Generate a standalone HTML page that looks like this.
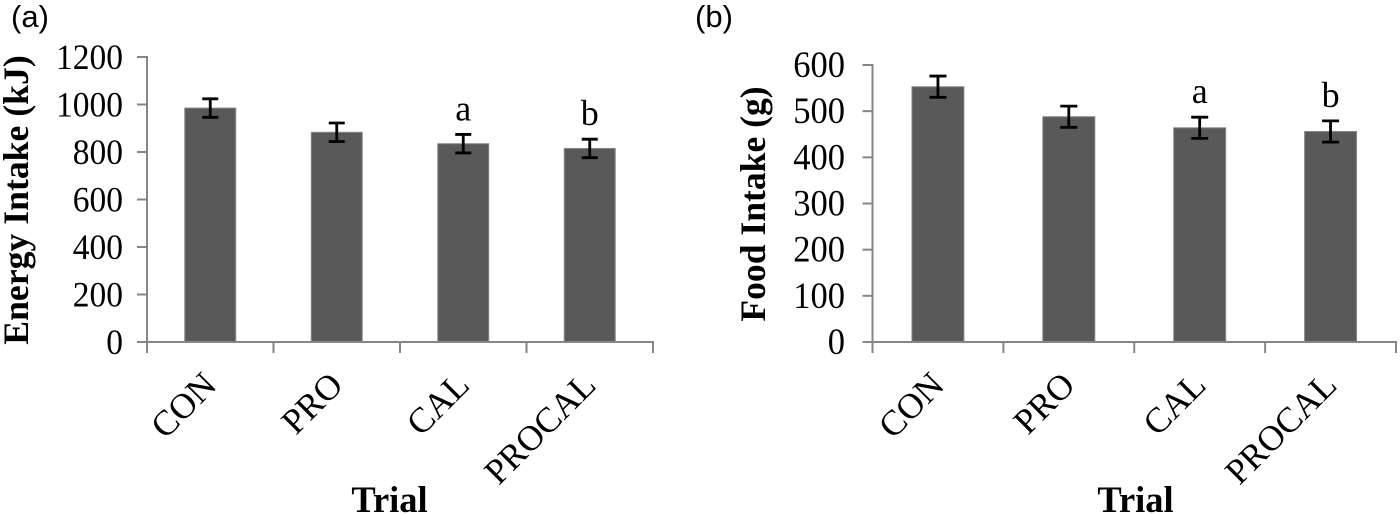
<!DOCTYPE html>
<html>
<head>
<meta charset="utf-8">
<style>
html,body{margin:0;padding:0;background:#fff;width:1400px;height:515px;overflow:hidden}
svg{display:block}
text{font-family:"Liberation Serif",serif;fill:#000}
</style>
</head>
<body>
<svg id="figure" width="1400" height="515" viewBox="0 0 1400 515" xmlns="http://www.w3.org/2000/svg">
<text x="11" y="27" style="font-family:'Liberation Sans',sans-serif;font-size:31px">(a)</text>
<text x="695" y="27" style="font-family:'Liberation Sans',sans-serif;font-size:31px">(b)</text>
</svg>
<script>
const categories = ["CON", "PRO", "CAL", "PROCAL"];
const energyValues = [985, 883, 835, 815];
const energyErrors = [39, 39, 39, 39];
const energyTicks = [0, 200, 400, 600, 800, 1000, 1200];
const foodValues = [553, 488, 464, 456];
const foodErrors = [23, 23, 23, 23];
const foodTicks = [0, 100, 200, 300, 400, 500, 600];
const significance = ["", "", "a", "b"];

const svg = document.getElementById('figure');
function mk(tag, attrs, txt) {
  const el = document.createElementNS('http://www.w3.org/2000/svg', tag);
  for (const k in attrs) el.setAttribute(k, attrs[k]);
  if (txt !== undefined) el.textContent = txt;
  svg.appendChild(el);
  return el;
}
function drawPanel(p, values, errors, ticks) {
  const yMax = ticks[ticks.length - 1];
  const yScale = v => p.y0 - (v / yMax) * (p.y0 - p.yTop);
  const band = (p.xRight - p.xLeft) / categories.length;
  const xCenter = i => p.xLeft + band * (i + 0.5);
  const axis = '#868686';

  values.forEach((v, i) => {
    const bar = mk('rect', {x: xCenter(i) - p.barW / 2, y: yScale(v), width: p.barW, height: p.y0 - yScale(v), fill: '#595959', stroke: '#8a8a8a', 'stroke-width': 1});
    
    
  });

  const yLine = mk('line', {x1: p.xLeft, x2: p.xLeft, y1: p.yTop - 1, y2: p.y0, stroke: axis, 'stroke-width': 2});
  
  
  const xLine = mk('line', {x1: p.xLeft - 10, x2: p.xRight + 1, y1: p.y0, y2: p.y0, stroke: axis, 'stroke-width': 2});
  
  

  ticks.forEach(t => {
    const y = yScale(t);
    const tk = mk('line', {x1: p.xLeft - 10, x2: p.xLeft, y1: y, y2: y, stroke: axis, 'stroke-width': 2});
    
    
    const lb = mk('text', {x: 0, y: 0, 'text-anchor': 'end', 'font-size': p.tickFont, transform: 'translate(' + p.yLabelX + ' ' + (y + 12) + ') scale(1 1.06)'}, String(t));
    
    
  });

  for (let i = 0; i <= categories.length; i++) {
    const x = p.xLeft + band * i;
    const tk = mk('line', {x1: x, x2: x, y1: p.y0, y2: p.y0 + 11, stroke: axis, 'stroke-width': 2});
    
    
  }

  categories.forEach((c, i) => {
    const cx = xCenter(i) + 8, cy = 387;
    const lb = mk('text', {x: cx, y: cy, 'text-anchor': 'end', 'font-size': 35.5, transform: 'rotate(-45 ' + cx + ' ' + cy + ')'}, c);
    
    
  });

  values.forEach((v, i) => {
    const cx = xCenter(i), hi = yScale(v + errors[i]), lo = yScale(v - errors[i]);
    const cap = p.capW / 2;
    const eb = mk('path', {d: 'M' + (cx - cap) + ' ' + hi + 'H' + (cx + cap) + 'M' + cx + ' ' + hi + 'V' + lo + 'M' + (cx - cap) + ' ' + lo + 'H' + (cx + cap), fill: 'none', stroke: '#000', 'stroke-width': 2.8});
    
    
    if (significance[i]) {
      const sig = mk('text', {x: cx, y: hi - 14, 'text-anchor': 'middle', 'font-size': 36}, significance[i]);
      
      
    }
  });

  const yt = mk('text', {x: 0, y: 0, 'text-anchor': 'middle', 'font-size': p.titleFont, 'font-weight': 'bold', transform: 'translate(' + p.titleX + ' ' + p.titleY + ') rotate(-90)'}, p.yTitle);
  
  
  const xt = mk('text', {x: p.trialX, y: 512, 'text-anchor': 'middle', 'font-size': 36.5, 'font-weight': 'bold'}, 'Trial');
  
  
}

drawPanel({id: 'a', xLeft: 147, xRight: 653, yTop: 57, y0: 342, barW: 51, capW: 16, yLabelX: 123, tickFont: 33.5, titleFont: 35.7, titleX: 28, titleY: 200, yTitle: 'Energy Intake (kJ)', trialX: 389.5}, energyValues, energyErrors, energyTicks);
drawPanel({id: 'b', xLeft: 872.5, xRight: 1396, yTop: 65, y0: 342, barW: 52, capW: 17, yLabelX: 845, tickFont: 34.5, titleFont: 35.6, titleX: 765, titleY: 204, yTitle: 'Food Intake (g)', trialX: 1135.5}, foodValues, foodErrors, foodTicks);
</script>
</body>
</html>
